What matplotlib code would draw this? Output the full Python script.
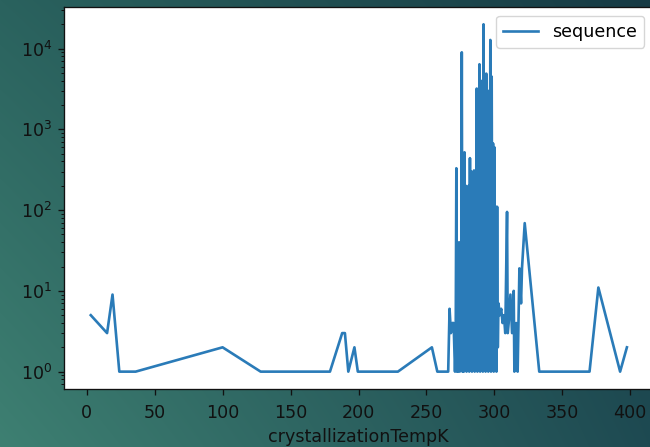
import numpy as np
import matplotlib
matplotlib.use("Agg")
import matplotlib.pyplot as plt

# ---- data (counts of sequences per crystallization temperature) ----
temps_low = [3, 15, 19, 24, 36, 100, 128, 179, 188, 190, 192.5, 197, 199.5,
             229, 254, 258, 266, 267, 268, 269, 270]
counts_low = [5, 3, 9, 1, 1, 2, 1, 1, 3, 3, 1, 2, 1,
              1, 2, 1, 1, 6, 3, 4, 4]

temps_mid = [271.0, 271.5, 272.0, 272.5, 273.0, 273.15, 273.5, 274.0, 274.5,
             275.0, 275.5, 276.0, 276.5, 277.0, 277.15, 277.5, 278.0, 278.5,
             279.0, 279.5, 280.0, 280.5, 281.0, 281.5, 282.0, 282.5, 283.0,
             283.15, 283.5, 284.0, 284.5, 285.0, 285.5, 286.0, 286.5, 287.0,
             287.5, 288.0, 288.15, 288.5, 289.0, 289.5, 290.0, 290.5, 291.0,
             291.15, 291.5, 292.0, 292.5, 293.0, 293.15, 293.5, 294.0, 294.5,
             295.0, 295.15, 295.5, 296.0, 296.5, 297.0, 297.5, 298.0, 298.15,
             298.5, 299.0, 299.5, 300.0, 300.5, 301.0, 301.5, 302.0, 302.5]
counts_mid = [1, 2, 330, 1, 35, 1, 2, 40, 1,
              25, 2, 9000, 1, 300, 60, 1, 520, 2,
              200, 1, 180, 2, 200, 1, 440, 2, 300,
              20, 1, 250, 2, 310, 1, 200, 2, 3200,
              1, 2500, 30, 2, 6400, 1, 4000, 2, 3000,
              50, 1, 20000, 2, 4000, 900, 1, 4900, 2,
              2000, 40, 1, 3000, 2, 12800, 1, 4500, 500,
              2, 670, 1, 600, 2, 110, 1, 110, 2]

temps_high = [303, 304, 305, 306, 307, 308, 309.3, 309.8, 310.5, 311.8, 313,
              314.2, 314.7, 316, 317.1, 318.4, 319.6, 320.3, 322.3, 333, 370,
              376.5, 392.5, 397.5]
counts_high = [7, 5, 6, 4, 5, 3, 95, 3, 4, 9, 3,
               10, 1, 4, 1, 19, 7, 19, 69, 1, 1,
               11, 1, 2]

x_ticks = [0, 50, 100, 150, 200, 250, 300, 350, 400]
x_label = "crystallizationTempK"
series_name = "sequence"

temps = temps_low + temps_mid + temps_high
counts = counts_low + counts_mid + counts_high

# ---- figure ----
S = 1.19
plt.rcParams['font.family'] = ['DejaVu Sans']
plt.rcParams['font.size'] = 12.6

fig = plt.figure(figsize=(6.5, 4.47), dpi=100)

# background gradient
H, W = 447, 650
yy, xx = np.mgrid[0:H, 0:W]
u = xx / (W - 1)
v = yy / (H - 1)
tl = np.array([42, 98, 94])
tr = np.array([22, 58, 68])
bl = np.array([62, 128, 114])
br = np.array([30, 74, 82])
img = ((1 - u)[..., None] * (1 - v)[..., None] * tl + u[..., None] * (1 - v)[..., None] * tr
       + (1 - u)[..., None] * v[..., None] * bl + u[..., None] * v[..., None] * br) / 255.0
bg = fig.add_axes([0, 0, 1, 1], zorder=-10)
bg.imshow(img, aspect='auto', extent=[0, 1, 0, 1], origin='upper')
bg.axis('off')

ax = fig.add_axes([64 / 650, 58 / 447, 589 / 650, 382 / 447])
ax.set_facecolor('white')
ax.plot(temps, counts, color='#2a7bb8', lw=1.6 * S, label=series_name)
ax.set_yscale('log')
ax.set_xticks(x_ticks)
ax.set_xlim(-16.7, 416.7)
ax.set_ylim(10 ** -0.215, 10 ** 4.515)
ax.set_xlabel(x_label, color='#111111', labelpad=4.5)
for sp in ax.spines.values():
    sp.set_linewidth(0.8 * S)
    sp.set_color('#111111')
ax.tick_params(which='major', length=3.5 * S, width=0.8 * S, colors='#111111',
               labelcolor='#111111', pad=4.2)
ax.tick_params(axis='x', which='major', pad=6.5)
ax.tick_params(which='minor', length=2 * S, width=0.6 * S, colors='#111111')
leg = ax.legend(loc='upper right', bbox_to_anchor=(1, 1), borderaxespad=0.5)
fig.savefig('out.png', dpi=100)
